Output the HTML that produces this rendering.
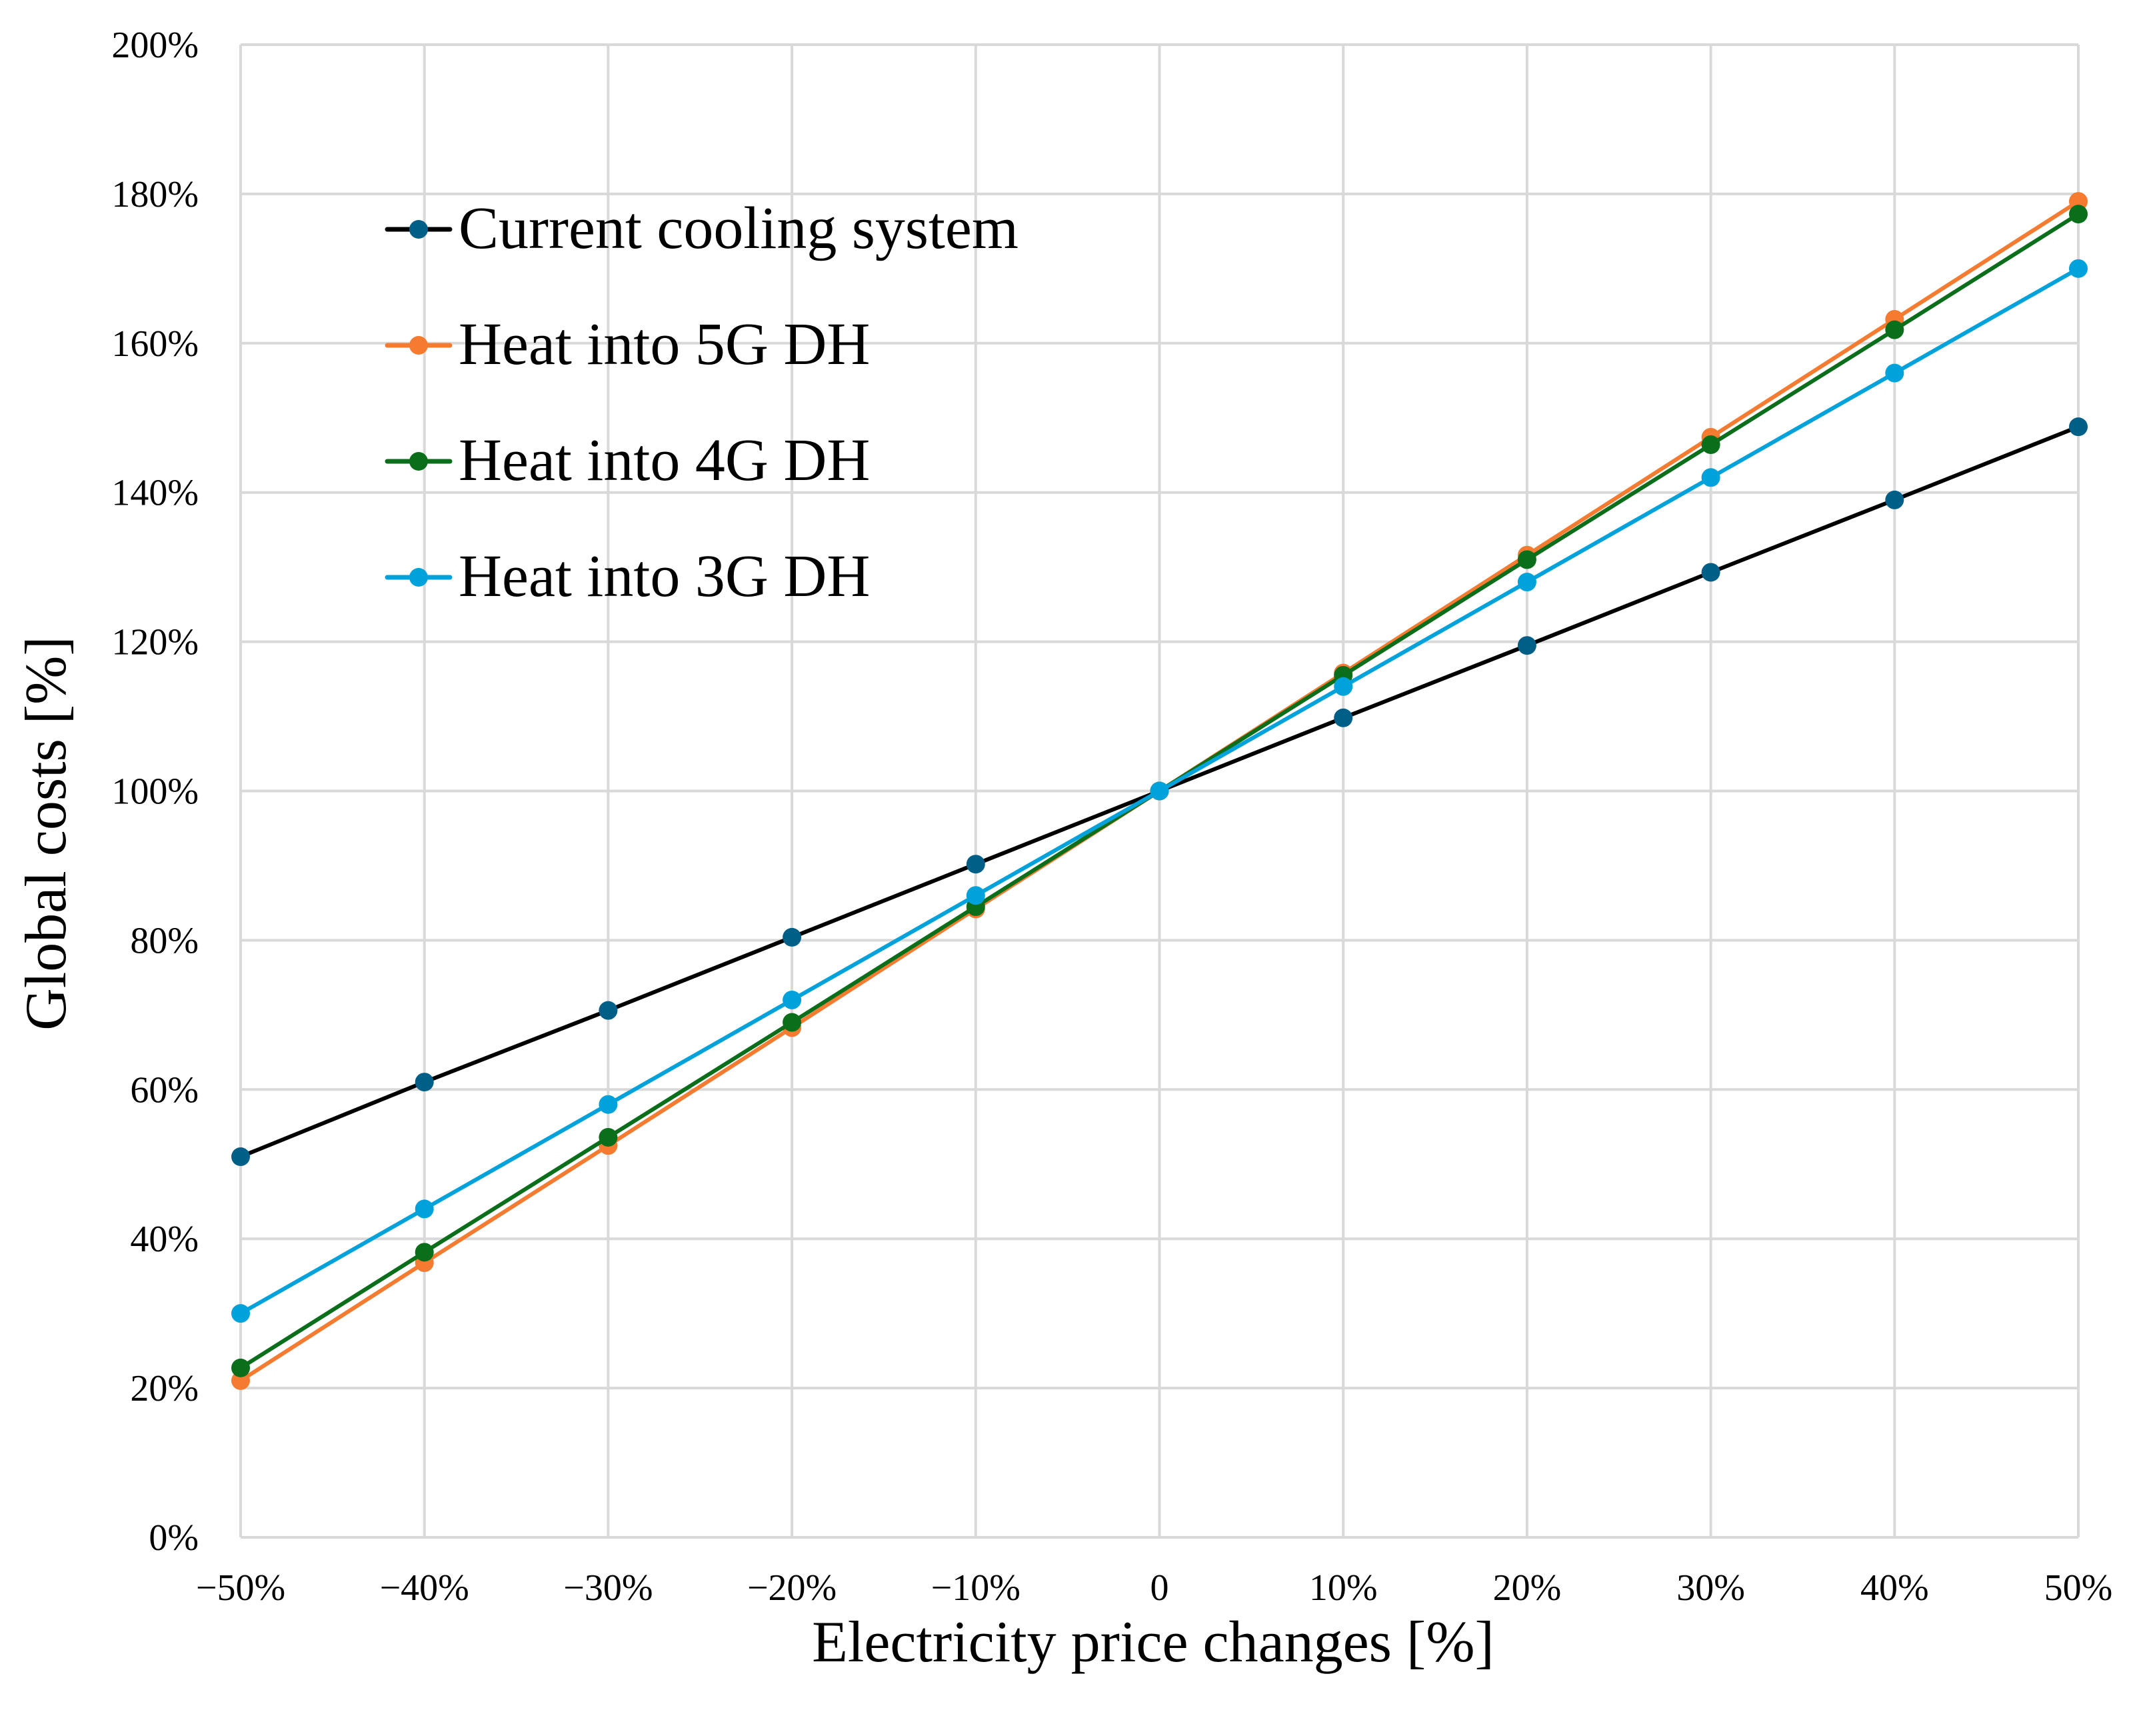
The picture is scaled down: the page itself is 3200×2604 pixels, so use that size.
<!DOCTYPE html>
<html><head><meta charset="utf-8"><style>
html,body{margin:0;padding:0;background:#fff;}
svg{display:block;font-family:"Liberation Serif",serif;}
</style></head><body>
<svg id="chart" width="3200" height="2604" viewBox="0 0 3200 2604" xmlns="http://www.w3.org/2000/svg">
<g id="grid"></g>
<g id="yticks"></g>
<g id="xticks"></g>
<g id="series"></g>
<g id="legend"></g>
<text x="0" y="0" font-size="88" text-anchor="middle" transform="translate(98,1250) rotate(-90)">Global costs [%]</text>
<text x="1730" y="2492" font-size="88" text-anchor="middle">Electricity price changes [%]</text>
</svg>
<script>
const categories = [-50,-40,-30,-20,-10,0,10,20,30,40,50];
const xTickLabels = ["\u221250%","\u221240%","\u221230%","\u221220%","\u221210%","0","10%","20%","30%","40%","50%"];
const yTicks = [0,20,40,60,80,100,120,140,160,180,200];
const seriesNames = ["Current cooling system","Heat into 5G DH","Heat into 4G DH","Heat into 3G DH"];
const currentCooling = [51,61,70.6,80.4,90.2,100,109.8,119.5,129.3,139,148.8];
const heat5G = [21,36.8,52.5,68.3,84.2,100,115.8,131.6,147.4,163.2,179];
const heat4G = [22.7,38.2,53.6,69,84.5,100,115.5,131,146.4,161.8,177.3];
const heat3G = [30,44,58,72,86,100,114,128,142,156,170];

const NS="http://www.w3.org/2000/svg";
const L=361,R=3118,T=67,B=2306;
const xS=v=>L+(v+50)/100*(R-L);
const yS=v=>B-v/200*(B-T);
function mk(tag,attrs,parent){const e=document.createElementNS(NS,tag);for(const k in attrs)e.setAttribute(k,attrs[k]);parent.appendChild(e);return e;}
const grid=document.getElementById('grid'),yt=document.getElementById('yticks'),xt=document.getElementById('xticks'),sg=document.getElementById('series'),lg=document.getElementById('legend');
yTicks.forEach(v=>{
  const l=mk('line',{x1:L,x2:R,y1:yS(v),y2:yS(v),stroke:'#d9d9d9','stroke-width':4},grid);
  
  
  const t=mk('text',{x:298,y:yS(v)+19,'font-size':56,'text-anchor':'end'},yt);
  t.textContent=v+'%';
  
  
});
categories.forEach((c,i)=>{
  const l=mk('line',{x1:xS(c),x2:xS(c),y1:T,y2:B,stroke:'#d9d9d9','stroke-width':4},grid);
  
  
  const t=mk('text',{x:xS(c),y:2400,'font-size':56,'text-anchor':'middle'},xt);
  t.textContent=xTickLabels[i];
  
  
});
const all=[currentCooling,heat5G,heat4G,heat3G];
const lineCol=['#000000','#f47b30','#0b6e1b','#00a2db'];
const markCol=['#005f87','#f47b30','#0b6e1b','#00a2db'];
const slugs=['current-cooling','heat-5g','heat-4g','heat-3g'];
all.forEach((d,s)=>{
  const g=mk('g',{},sg);
  
  
  const p=mk('polyline',{points:d.map((v,i)=>xS(categories[i])+','+yS(v)).join(' '),fill:'none',stroke:lineCol[s],'stroke-width':6,'stroke-linejoin':'round'},g);
  
  
  d.forEach((v,i)=>{
    const c=mk('circle',{cx:xS(categories[i]),cy:yS(v),r:14,fill:markCol[s]},g);
    
    
  });
  const ly=344+s*174;
  const e=mk('g',{},lg);
  
  
  mk('line',{x1:581,x2:675,y1:ly,y2:ly,stroke:lineCol[s],'stroke-width':7,'stroke-linecap':'round'},e);
  mk('circle',{cx:628,cy:ly,r:14,fill:markCol[s]},e);
  const t=mk('text',{x:688,y:ly+28,'font-size':90},e);
  t.textContent=seriesNames[s];
});
</script>
</body></html>
